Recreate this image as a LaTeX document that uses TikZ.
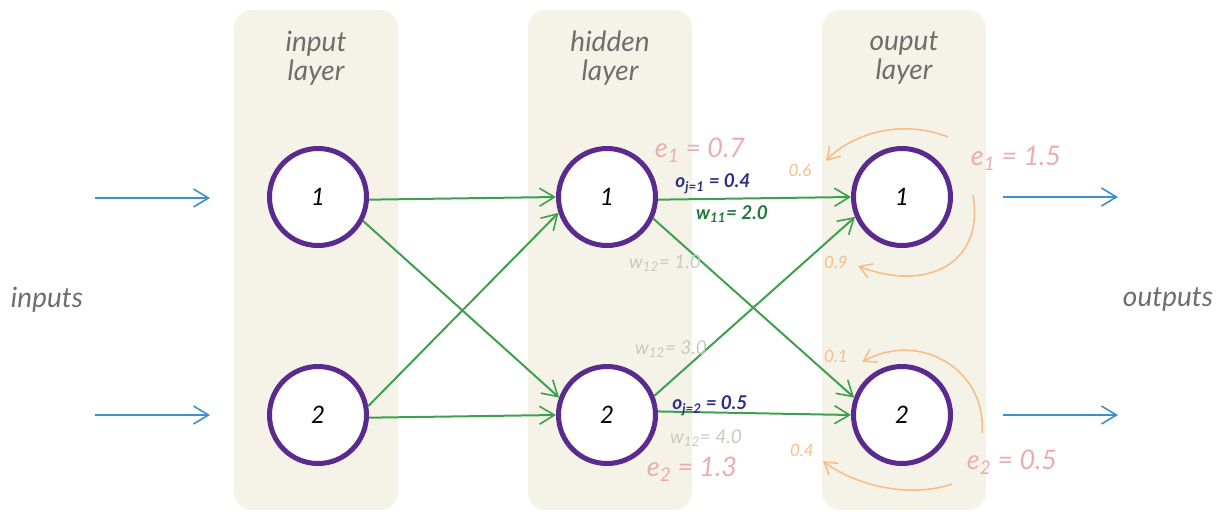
\documentclass[tikz,border=0pt]{standalone}
\usepackage{fontspec}
\setmainfont{Lato}
\usetikzlibrary{arrows.meta}
\definecolor{beige}{HTML}{F5F3E7}
\definecolor{neuronc}{HTML}{5A2A8E}
\definecolor{connc}{HTML}{3DA04E}
\definecolor{flowc}{HTML}{3D8FD4}
\definecolor{errc}{HTML}{EBADAD}
\definecolor{fbc}{HTML}{F6BE8A}
\definecolor{wgray}{HTML}{C3CBC4}
\definecolor{labelgray}{HTML}{6E6E6E}
\definecolor{odark}{HTML}{2E2E86}
\definecolor{wdark}{HTML}{1F7A3C}
\begin{document}
\begin{tikzpicture}[x=1pt,y=-1pt,
  layerbox/.style={fill=beige, rounded corners=18pt, minimum width=164pt, minimum height=500pt, inner sep=0pt},
  neuron/.style={circle, draw=neuronc, line width=5pt, fill=white, minimum size=97pt, inner sep=0pt, font=\itshape\fontsize{24}{24}\selectfont},
  layerlabel/.style={align=center, text=labelgray, font=\itshape\fontsize{28}{29}\selectfont},
  sidelabel/.style={text=labelgray, font=\itshape\fontsize{28}{28}\selectfont},
  connarrow/.style={draw=connc, line width=2pt, -{Straight Barb[length=15pt,width=18pt,line width=1.6pt]}},
  flowarrow/.style={draw=flowc, line width=2pt, -{Straight Barb[length=15pt,width=18pt,line width=1.6pt]}},
  fbarrow/.style={draw=fbc, line width=1.6pt, -{Straight Barb[length=12pt,width=15pt,line width=1.6pt]}},
  errlabel/.style={text=errc, font=\itshape\fontsize{27}{27}\selectfont},
  olabel/.style={text=odark, font=\bfseries\itshape\fontsize{19}{19}\selectfont},
  wlabel/.style={text=wdark, font=\bfseries\itshape\fontsize{19}{19}\selectfont},
  wlight/.style={text=wgray, font=\itshape\fontsize{19}{19}\selectfont},
  fblabel/.style={text=fbc, font=\itshape\fontsize{17}{17}\selectfont}
]
\useasboundingbox (0,0) rectangle (1224,512);
% layer columns
\node[layerbox] (colin) at (316,260) {};
\node[layerbox] (colhid) at (610,260) {};
\node[layerbox] (colout) at (904,260) {};
\node[layerlabel] (tin) at (316,58) {input\\layer};
\node[layerlabel] (thid) at (610,58) {hidden\\layer};
\node[layerlabel] (tout) at (904,58) {ouput\\layer};
% neurons
\node[neuron] (in1) at (318,197) {1};
\node[neuron] (in2) at (318,415) {2};
\node[neuron] (h1) at (607,197) {1};
\node[neuron] (h2) at (607,415) {2};
\node[neuron] (o1) at (902,197) {1};
\node[neuron] (o2) at (902,415) {2};
% side labels
\node[sidelabel] (inputs) at (47,300) {inputs};
\node[sidelabel] (outputs) at (1168,300) {outputs};
% input / output arrows
\coordinate (ia1) at (95,198); \coordinate (ib1) at (210,198);
\coordinate (ia2) at (95,415); \coordinate (ib2) at (210,415);
\coordinate (oa1) at (1003,197); \coordinate (ob1) at (1118,197);
\coordinate (oa2) at (1003,415); \coordinate (ob2) at (1118,415);
\draw[flowarrow] (ia1) -- (ib1);
\draw[flowarrow] (ia2) -- (ib2);
\draw[flowarrow] (oa1) -- (ob1);
\draw[flowarrow] (oa2) -- (ob2);
% connections
\draw[connarrow] (in1.-3) -- (h1.180);
\draw[connarrow] (in1.-28) -- (h2.160);
\draw[connarrow] (in2.10) -- (h1.198);
\draw[connarrow] (in2.-3) -- (h2.180);
\draw[connarrow] (h1.-3) -- (o1.180);
\draw[connarrow] (h1.-25) -- (o2.160);
\draw[connarrow] (h2.22) -- (o1.203);
\draw[connarrow] (h2.4) -- (o2.180);
% feedback arrows
\coordinate (f1a) at (948,137); \coordinate (f1b) at (826,161);
\coordinate (f2a) at (973,195); \coordinate (f2b) at (858,266);
\coordinate (f3a) at (982,433); \coordinate (f3b) at (862,362);
\coordinate (f4a) at (952,484); \coordinate (f4b) at (823,461);
\draw[fbarrow] (f1a) .. controls (900,118) and (850,135) .. (f1b);
\draw[fbarrow] (f2a) .. controls (985,265) and (925,292) .. (f2b);
\draw[fbarrow] (f3a) .. controls (987,370) and (920,330) .. (f3b);
\draw[fbarrow] (f4a) .. controls (905,500) and (850,482) .. (f4b);
% labels
\node[errlabel] (e1h) at (700,150) {e\textsubscript{1} = 0.7};
\node[errlabel] (e2h) at (692,469) {e\textsubscript{2} = 1.3};
\node[errlabel] (e1o) at (1016,158) {e\textsubscript{1} = 1.5};
\node[errlabel] (e2o) at (1012,462) {e\textsubscript{2} = 0.5};
\node[olabel] (oj1) at (713,184) {o\textsubscript{j=1} = 0.4};
\node[wlabel] (w11) at (732,214) {w\textsubscript{11}= 2.0};
\node[wlight] (w12a) at (665,263) {w\textsubscript{12}= 1.0};
\node[wlight] (w12b) at (671,349) {w\textsubscript{12}= 3.0};
\node[olabel] (oj2) at (710,406) {o\textsubscript{j=2} = 0.5};
\node[wlight] (w12c) at (706,438) {w\textsubscript{12}= 4.0};
\node[fblabel] (f06) at (800,170) {0.6};
\node[fblabel] (f09) at (836,262) {0.9};
\node[fblabel] (f01) at (836,356) {0.1};
\node[fblabel] (f04) at (802,450) {0.4};
\end{tikzpicture}
\end{document}
